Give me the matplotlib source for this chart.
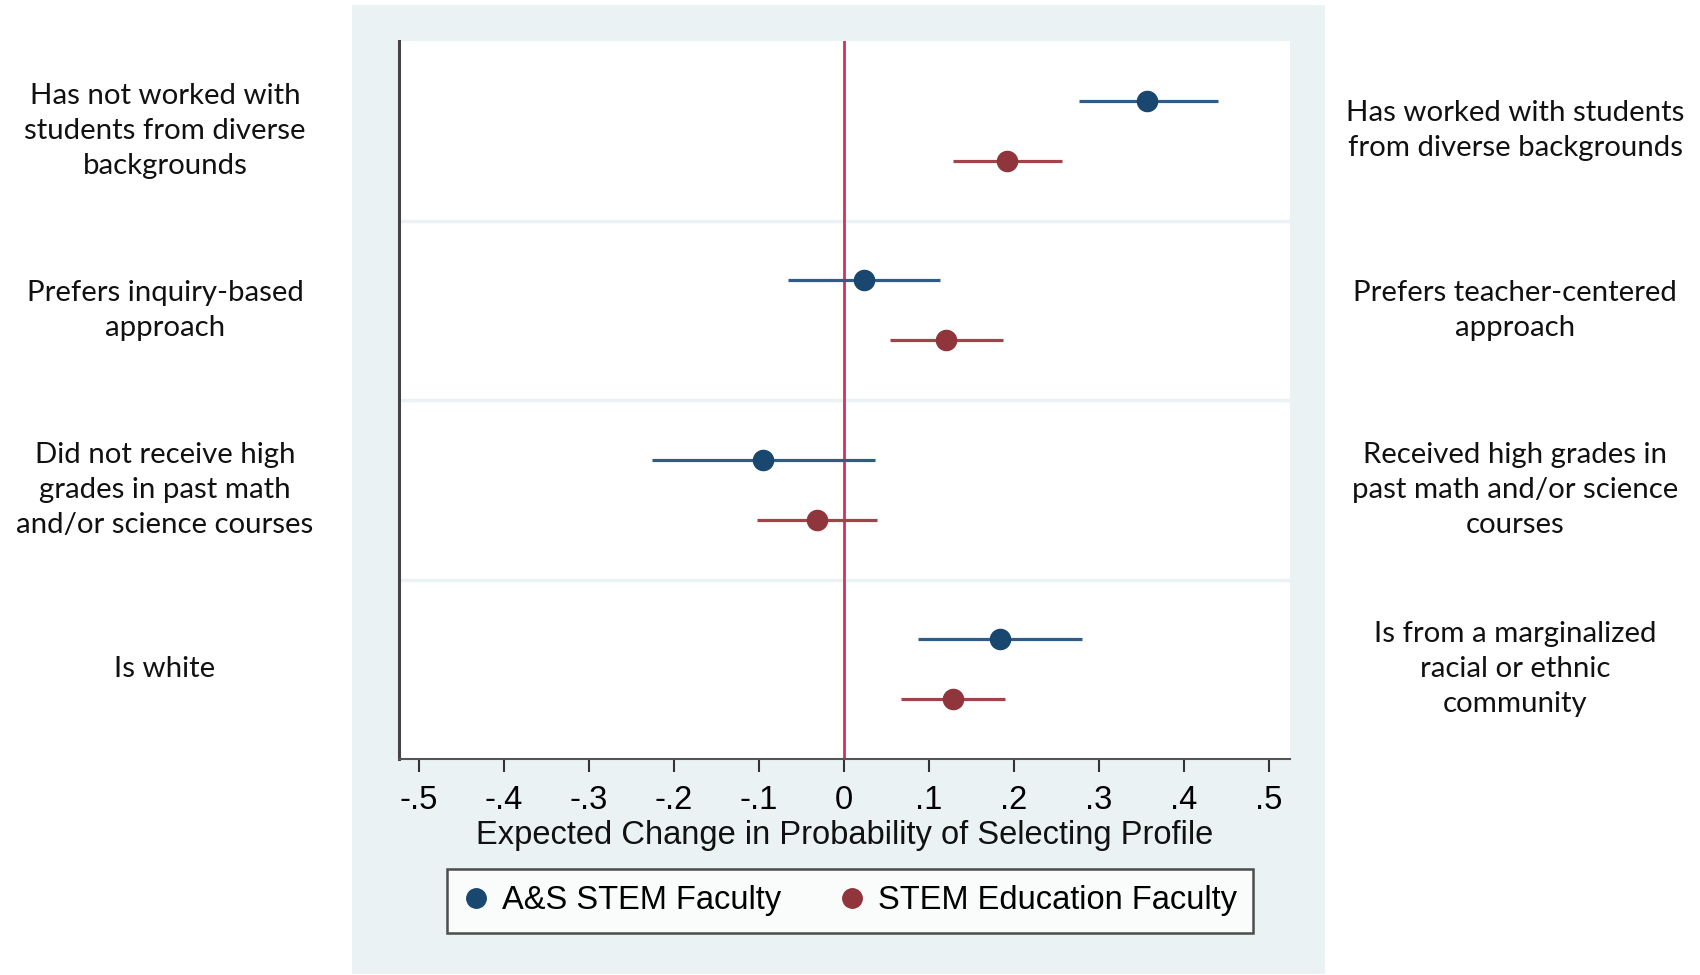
import matplotlib
matplotlib.use("Agg")
import matplotlib.pyplot as plt
from matplotlib.patches import Rectangle
from matplotlib.lines import Line2D
import matplotlib.transforms as mtransforms

# ---- data ----
left_labels = [
    "Has not worked with\nstudents from diverse\nbackgrounds",
    "Prefers inquiry-based\napproach",
    "Did not receive high\ngrades in past math\nand/or science courses",
    "Is white",
]
right_labels = [
    "Has worked with students\nfrom diverse backgrounds",
    "Prefers teacher-centered\napproach",
    "Received high grades in\npast math and/or science\ncourses",
    "Is from a marginalized\nracial or ethnic\ncommunity",
]
series_names = ["A&S STEM Faculty", "STEM Education Faculty"]
as_est = [0.356, 0.023, -0.095, 0.184]
as_lo = [0.276, -0.066, -0.226, 0.087]
as_hi = [0.440, 0.113, 0.036, 0.280]
ed_est = [0.192, 0.120, -0.032, 0.128]
ed_lo = [0.128, 0.054, -0.102, 0.067]
ed_hi = [0.257, 0.187, 0.039, 0.190]
xticks = [-0.5, -0.4, -0.3, -0.2, -0.1, 0, 0.1, 0.2, 0.3, 0.4, 0.5]
xticklabels = ["-.5", "-.4", "-.3", "-.2", "-.1", "0", ".1", ".2", ".3", ".4", ".5"]
xlabel = "Expected Change in Probability of Selecting Profile"

# ---- styling ----
W, H = 1700, 975
BLUE = "#1A476F"
RED = "#90353B"
BLUE_LINE = "#2F5C86"
RED_LINE = "#A0444A"
PANEL = "#EAF2F3"
ZERO = "#D43158"
side_font = "Lato"
axis_font = "Liberation Sans"

fig = plt.figure(figsize=(W / 100, H / 100), dpi=100)
fig.patch.set_facecolor("white")

# bluish panel behind plot
fig.patches.append(Rectangle((352 / W, 1 - 974 / H), (1325 - 352) / W, (974 - 5) / H,
                             transform=fig.transFigure, facecolor=PANEL, edgecolor="none", zorder=0))

ax = fig.add_axes([399 / W, 1 - 759 / H, (1290 - 399) / W, (759 - 41) / H])
ax.set_facecolor("white")
ax.set_zorder(1)

n = len(left_labels)
for i in range(n):
    yb = 3 * i + 1
    yr = 3 * i + 2
    ax.plot([as_lo[i], as_hi[i]], [yb, yb], color=BLUE_LINE, lw=2.3, solid_capstyle="butt", zorder=3)
    ax.plot([as_est[i]], [yb], "o", color=BLUE, ms=14.5, mec=BLUE, zorder=4)
    ax.plot([ed_lo[i], ed_hi[i]], [yr, yr], color=RED_LINE, lw=2.3, solid_capstyle="butt", zorder=3)
    ax.plot([ed_est[i]], [yr], "o", color=RED, ms=14.5, mec=RED, zorder=4)

for s in range(1, n):
    ax.axhline(3 * s, color=PANEL, lw=2.5, zorder=1)

ax.axvline(0, color=ZERO, lw=2.0, zorder=2)

ax.set_xlim(-0.5235, 0.5247)
ax.set_ylim(3 * n, 0)
ax.set_yticks([])
ax.set_xticks(xticks)
ax.set_xticklabels(xticklabels, fontfamily=axis_font, fontsize=23.5)
ax.tick_params(axis="x", direction="out", length=9.5, width=1.5, color="#333333", pad=9)
ax.set_xlabel(xlabel, fontfamily=axis_font, fontsize=23.5, labelpad=3, color="#111111")
for sp in ["top", "right"]:
    ax.spines[sp].set_visible(False)
ax.spines["left"].set_color("#444444")
ax.spines["left"].set_linewidth(2.2)
ax.spines["bottom"].set_color("#555555")
ax.spines["bottom"].set_linewidth(1.5)

# side labels
trans = mtransforms.blended_transform_factory(fig.transFigure, ax.transData)
for i in range(n):
    yc = 3 * i + 1.5
    ax.text(165 / W, yc, left_labels[i], transform=trans, ha="center", va="center",
            fontfamily=side_font, fontsize=21.2, linespacing=1.42, clip_on=False, color="#111111")
    ax.text(1515 / W, yc, right_labels[i], transform=trans, ha="center", va="center",
            fontfamily=side_font, fontsize=21.2, linespacing=1.42, clip_on=False, color="#111111")

# legend
handles = [
    Line2D([], [], marker="o", ls="none", color=BLUE, ms=14),
    Line2D([], [], marker="o", ls="none", color=RED, ms=14),
]
leg = fig.legend(handles, series_names, loc="center", bbox_to_anchor=(850 / W, 1 - 901 / H),
                 ncol=2, frameon=True, fancybox=False, handletextpad=0.4, columnspacing=1.75,
                 handlelength=0.8, borderpad=0.5, borderaxespad=0,
                 prop={"family": axis_font, "size": 23.5})
leg.get_frame().set_edgecolor("#222222")
leg.get_frame().set_linewidth(1.8)
leg.get_frame().set_facecolor("white")

fig.savefig("out.png", dpi=100)
